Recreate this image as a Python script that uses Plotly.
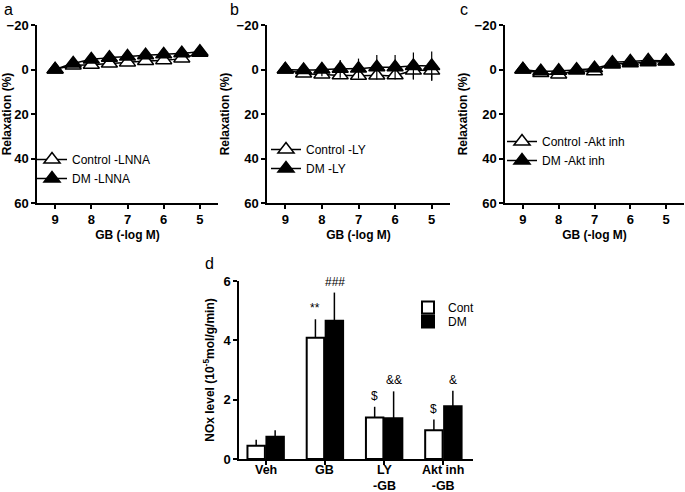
import plotly.graph_objects as go

conc = [9, 8.5, 8, 7.5, 7, 6.5, 6, 5.5, 5]

# Panel a (negative = relaxation upward on reversed axis)
a_ctrl = [0, -1.8, -2.1, -2.7, -3.2, -3.8, -4.2, -5.0, -7.5]
a_dm = [0, -2.7, -4.5, -5.3, -5.8, -6.4, -6.8, -7.3, -8.0]
# Panel b
b_ctrl = [0, 1.8, 2.2, 2.6, 2.8, 2.7, 2.6, 0.5, 0.5]
b_dm = [0, 0.2, 0.0, -0.3, -0.4, -1.0, -1.0, -1.6, -1.6]
b_dm_err = [0, 0, 3.0, 4.0, 4.5, 5.5, 5.5, 6.0, 6.5]
b_ctrl_err = [0, 0, 0, 0, 0, 0, 0, 4.0, 4.5]
# Panel c
c_ctrl = [0, 1.6, 2.2, 0.5, 0.8, -3.0, -3.6, -4.0, -3.8]
c_dm = [0, 0.8, 0.6, 0.1, -0.6, -2.3, -2.8, -3.3, -3.6]

# Panel d
groups = ["Veh", "GB", "LY<br>-GB", "Akt inh<br>-GB"]
cont_vals = [0.45, 4.09, 1.40, 0.97]
cont_err = [0.20, 0.62, 0.36, 0.36]
dm_vals = [0.75, 4.66, 1.37, 1.78]
dm_err = [0.22, 0.95, 0.91, 0.52]
cont_marks = ["", "**", "$", "$"]
dm_marks = ["", "###", "&&", "&"]

FONT = "Liberation Sans, Arial, sans-serif"
fig = go.Figure()

W, H = 685, 492
def px_x(a, b):
    return [a / W, b / W]
def px_y(top, bottom):
    return [1 - bottom / H, 1 - top / H]

panels = [
    ("x", "y", px_x(37, 218), a_ctrl, a_dm, None, None, "Control -LNNA", "DM -LNNA", "legend"),
    ("x2", "y2", px_x(267, 450), b_ctrl, b_dm, b_ctrl_err, b_dm_err, "Control -LY", "DM -LY", "legend2"),
    ("x3", "y3", px_x(505, 684), c_ctrl, c_dm, None, None, "Control -Akt inh", "DM -Akt inh", "legend3"),
]

for xa, ya, dom, ctrl, dm, cerr, derr, lc, ld, lg in panels:
    fig.add_trace(go.Scatter(
        x=conc, y=ctrl, xaxis=xa, yaxis=ya, mode="lines+markers", name=lc,
        line=dict(color="black", width=1.5, shape="spline"),
        marker=dict(symbol="triangle-up", size=14, color="white", line=dict(color="black", width=1.5)),
        error_y=dict(type="data", array=cerr, color="black", thickness=1.2, width=0) if cerr else None,
        legend=lg,
    ))
    fig.add_trace(go.Scatter(
        x=conc, y=dm, xaxis=xa, yaxis=ya, mode="lines+markers", name=ld,
        line=dict(color="black", width=1.5, shape="spline"),
        marker=dict(symbol="triangle-up", size=14, color="black", line=dict(color="black", width=1.5)),
        error_y=dict(type="data", array=derr, color="black", thickness=1.2, width=0) if derr else None,
        legend=lg,
    ))

# Panel d bars
fig.add_trace(go.Bar(
    x=groups, y=cont_vals, name="Cont", xaxis="x4", yaxis="y4",
    marker=dict(color="white", line=dict(color="black", width=2)),
    error_y=dict(type="data", array=cont_err, arrayminus=[0]*4, symmetric=False, color="black", thickness=1.5, width=0),
    legend="legend4",
))
fig.add_trace(go.Bar(
    x=groups, y=dm_vals, name="DM", xaxis="x4", yaxis="y4",
    marker=dict(color="black", line=dict(color="black", width=2)),
    error_y=dict(type="data", array=dm_err, arrayminus=[0]*4, symmetric=False, color="black", thickness=1.5, width=0),
    legend="legend5",
))

tickfont = dict(size=13, family=FONT, color="black", weight="bold")
catfont = dict(size=12.5, family=FONT, color="black", weight="bold")
titlefont = dict(size=12, family=FONT, color="black", weight="bold")

annotations = []
for g, v, e, m in zip(groups, cont_vals, cont_err, cont_marks):
    if m:
        annotations.append(dict(x=g, y=v + e, xref="x4", yref="y4", text=m, showarrow=False,
                                xshift=-10, yanchor="bottom", yshift=2, font=dict(size=12, family=FONT, color="black")))
for g, v, e, m in zip(groups, dm_vals, dm_err, dm_marks):
    if m:
        annotations.append(dict(x=g, y=v + e, xref="x4", yref="y4", text=m, showarrow=False,
                                xshift=10, yanchor="bottom", yshift=2, font=dict(size=12, family=FONT, color="black")))
# category labels of panel d (placed tight under the axis)
for g in groups:
    annotations.append(dict(x=g, y=1 - 462 / H, xref="x4", yref="paper", text=g,
                            showarrow=False, yanchor="top", borderpad=0, font=catfont))

for lab, x, y in [("a", 2, 9), ("b", 228, 9), ("c", 458, 9), ("d", 203, 263)]:
    annotations.append(dict(x=x / W, y=1 - y / H, xref="paper", yref="paper", text=lab, showarrow=False,
                            xanchor="left", yanchor="middle", font=dict(size=16, family=FONT, color="black")))

axis_base = dict(showline=True, linecolor="black", linewidth=1.5, ticks="outside", ticklen=4, tickwidth=1.5,
                 tickcolor="black", showgrid=False, zeroline=False, tickfont=tickfont, automargin=False)
common_x = dict(axis_base, range=[9.5, 4.5], tickvals=[9, 8, 7, 6, 5],
                title=dict(text="GB (-log M)", font=titlefont, standoff=4))
common_y = dict(axis_base, range=[60, -20], tickvals=[-20, 0, 20, 40, 60],
                title=dict(text="Relaxation (%)", font=titlefont, standoff=4))

ydom = px_y(25, 203)
layout = dict(
    template="none",
    width=W, height=H, margin=dict(l=0, r=0, t=0, b=0, autoexpand=False),
    paper_bgcolor="white", plot_bgcolor="white",
    font=dict(family=FONT, color="black"),
    barmode="group", bargap=0.36, bargroupgap=0.08,
    annotations=annotations,
)
for i, (xa, ya, dom, *_rest) in enumerate(panels):
    sx = "" if i == 0 else str(i + 1)
    layout["xaxis" + sx] = dict(common_x, domain=dom, anchor="y" + sx)
    layout["yaxis" + sx] = dict(common_y, domain=ydom, anchor="x" + sx)

layout["xaxis4"] = dict(axis_base, domain=px_x(239, 473), anchor="y4", range=[-0.45, 3.5], showticklabels=False)
layout["yaxis4"] = dict(axis_base, domain=px_y(281, 459), anchor="x4", range=[0, 6], tickvals=[0, 2, 4, 6],
                        title=dict(text="NOx level (10<sup>-5</sup>mol/g/min)", font=titlefont, standoff=6))

legfont = dict(size=12, family=FONT, color="black")
for lg, pos in [("legend", (32, 155)), ("legend2", (266, 145)), ("legend3", (502, 137)),
                ("legend4", (408, 303)), ("legend5", (408, 317))]:
    layout[lg] = dict(x=pos[0] / W, y=1 - (pos[1] - 10) / H, xanchor="left", yanchor="top",
                      bgcolor="rgba(0,0,0,0)", font=legfont, tracegroupgap=0, itemwidth=30)

fig.update_layout(**layout)
fig.write_html("out.html", post_script="document.body.style.margin='0';",
               config={"displayModeBar": False})
